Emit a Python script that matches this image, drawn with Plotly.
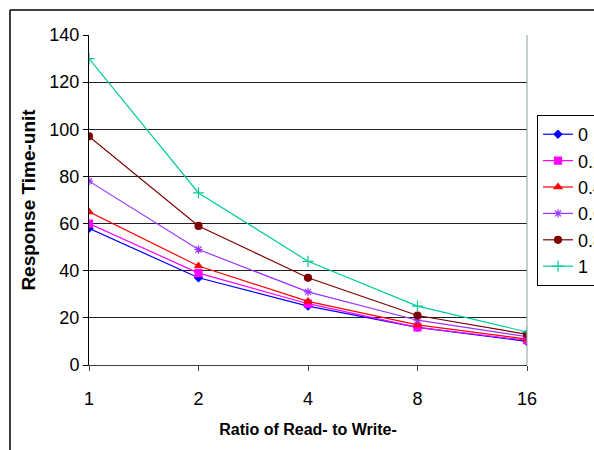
import plotly.graph_objects as go

# Read-to-write ratios (categorical x axis) and response times per series
ratios = ["1", "2", "4", "8", "16"]
series_names = ["0", "0.2", "0.4", "0.6", "0.8", "1"]
s0 = [58, 37, 25, 16, 10]
s02 = [60, 39, 26, 16, 10.5]
s04 = [65, 42, 27, 17, 11]
s06 = [78, 49, 31, 19, 12]
s08 = [97, 59, 37, 21, 13]
s1 = [130, 73, 44, 25, 14]
y_ticks = [0, 20, 40, 60, 80, 100, 120, 140]

values = [s0, s02, s04, s06, s08, s1]
colors = ["#0000FF", "#FF00FF", "#FF0000", "#9933FF", "#800000", "#00CC99"]
symbols = ["diamond", "square", "triangle-up", "asterisk-open", "circle", "cross-thin-open"]
sizes = [6, 7, 7, 7, 7, 8]

W, H = 594, 450
L, R, T, B = 89, 67, 35, 85
pw, ph = W - L - R, H - T - B

fig = go.Figure()
for name, vals, c, sym, sz in zip(series_names, values, colors, symbols, sizes):
    fig.add_trace(go.Scatter(
        x=ratios, y=vals, name=name, mode="lines+markers",
        line=dict(color=c, width=1.2),
        marker=dict(symbol=sym, size=sz, color=c, line=dict(color=c, width=1.2)),
    ))

# helpers converting page pixels to paper coordinates
def px_x(p):
    return (p - L) / pw

def px_y(p):
    return (H - B - p) / ph

# outer chart frame (top and left edges)
fig.add_shape(type="line", xref="paper", yref="paper",
              x0=px_x(10), x1=px_x(600), y0=px_y(10), y1=px_y(10),
              line=dict(color="black", width=1.5))
fig.add_shape(type="line", xref="paper", yref="paper",
              x0=px_x(10), x1=px_x(10), y0=px_y(10), y1=px_y(460),
              line=dict(color="black", width=1.5))
# right border of the plot area
fig.add_shape(type="line", xref="paper", yref="paper",
              x0=1, x1=1, y0=0, y1=1, line=dict(color="#8C9C9C", width=1))

fig.update_layout(
    width=W, height=H,
    margin=dict(l=L, r=R, t=T, b=B, autoexpand=False),
    paper_bgcolor="white", plot_bgcolor="white",
    font=dict(family="Liberation Sans, Arial, sans-serif", size=18, color="black"),
    showlegend=True,
    legend=dict(
        x=px_x(537), y=px_y(115), xanchor="left", yanchor="top",
        bordercolor="black", borderwidth=1, bgcolor="white",
        font=dict(size=18), itemwidth=30, tracegroupgap=0,
    ),
    xaxis=dict(
        type="category", range=[0, 4],
        showgrid=False, showline=True, linecolor="#404040", linewidth=1,
        ticks="outside", ticklen=5, tickcolor="#404040",
        ticklabelstandoff=12,
        tickfont=dict(size=18),
        title=dict(text="<b>Ratio of Read- to Write-</b>", font=dict(size=16), standoff=16),
    ),
    yaxis=dict(
        range=[0, 140], tickvals=y_ticks,
        showgrid=True, gridcolor="#202020", gridwidth=1,
        showline=True, linecolor="black", linewidth=1,
        ticks="outside", ticklen=5, tickcolor="black",
        tickfont=dict(size=18),
        zeroline=False,
        title=dict(text="<b>Response Time-unit</b>", font=dict(size=19), standoff=8),
    ),
)

fig.write_html("out.html")
